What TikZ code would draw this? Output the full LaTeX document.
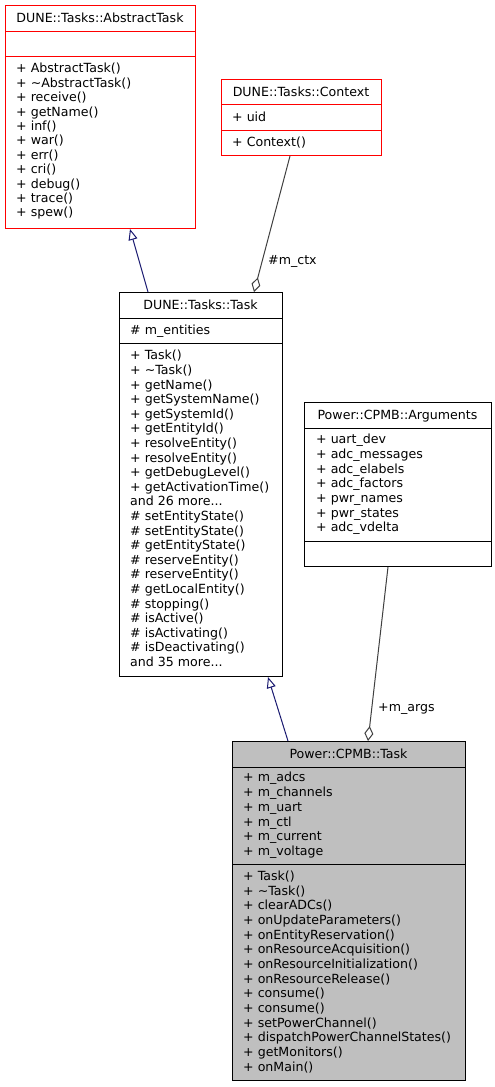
\documentclass[tikz,border=0pt]{standalone}
\usepackage{fontspec}
\setmainfont{DejaVu Sans}
\usetikzlibrary{arrows.meta,calc}
\definecolor{dxred}{HTML}{FF0000}
\definecolor{dxblue}{HTML}{191970}
\definecolor{dxgray}{HTML}{404040}
\definecolor{dxfill}{HTML}{BFBFBF}
\tikzset{
 classbox/.style={draw, line width=1pt, inner sep=0pt, anchor=north west},
 redbox/.style={classbox, draw=dxred},
 blackbox/.style={classbox, draw=black},
 redsep/.style={draw=dxred, line width=1pt},
 blacksep/.style={draw=black, line width=1pt},
 txt/.style={inner sep=0pt, anchor=base west, font=\fontsize{12.6}{14}\selectfont},
 ttl/.style={inner sep=0pt, anchor=base, font=\fontsize{12.6}{14}\selectfont},
 inherit/.style={draw=dxblue, line width=1pt, -{Triangle[open, length=11pt, width=9pt]}},
 aggr/.style={draw=dxgray, line width=1pt, -{Diamond[open, length=15pt, width=9pt]}},
}
\newcommand\mydots{...}
\newcommand\myclassbox[6]{\node[#2, minimum width={(#5)-(#3)}, minimum height={(#6)-(#4)}] (#1) at (#3,#4) {};}
\newcommand\mylines[5]{\foreach \t [count=\i from 0] in {#5} {\node[txt] (#1-\i) at (#2, {#3+\i*#4}) {\t};}}
\begin{document}
\begin{tikzpicture}[x=1pt,y=-1pt]
\fill[white] (0,0) rectangle (495,1087);
% AbstractTask
\myclassbox{abs}{redbox}{5}{5}{195}{228}
\draw[redsep] (5,31) -- (195,31);
\draw[redsep] (5,56.5) -- (195,56.5);
\node[ttl] (abs-t) at (100,22.5) {DUNE::Tasks::AbstractTask};
\mylines{absm}{16}{72.8}{14.4}{+ AbstractTask(), + \textasciitilde AbstractTask(), + receive(), + getName(), + inf(), + war(), + err(), + cri(), + debug(), + trace(), + spew()}
% Context
\myclassbox{ctx}{redbox}{221}{79}{381}{155}
\draw[redsep] (221,104) -- (381,104);
\draw[redsep] (221,130) -- (381,130);
\node[ttl] (ctx-t) at (301,96) {DUNE::Tasks::Context};
\node[txt] (ctx-a) at (232,121) {+ uid};
\node[txt] (ctx-m) at (232,146.5) {+ Context()};
% DUNE Task
\myclassbox{dtask}{blackbox}{119}{292}{282}{676}
\draw[blacksep] (119,318) -- (282,318);
\draw[blacksep] (119,343) -- (282,343);
\node[ttl] (dtask-t) at (200.5,309) {DUNE::Tasks::Task};
\node[txt] (dtask-a) at (130,334.5) {\# m\_entities};
\mylines{dtaskm}{130}{359.8}{14.6}{+ Task(), + \textasciitilde Task(), + getName(), + getSystemName(), + getSystemId(), + getEntityId(), + resolveEntity(), + resolveEntity(), + getDebugLevel(), + getActivationTime(), and 26 more\mydots, \# setEntityState(), \# setEntityState(), \# getEntityState(), \# reserveEntity(), \# reserveEntity(), \# getLocalEntity(), \# stopping(), \# isActive(), \# isActivating(), \# isDeactivating(), and 35 more\mydots}
% Arguments
\myclassbox{args}{blackbox}{304}{402}{491}{566}
\draw[blacksep] (304,428) -- (491,428);
\draw[blacksep] (304,541) -- (491,541);
\node[ttl] (args-t) at (397.5,419) {Power::CPMB::Arguments};
\mylines{argsa}{316}{443.8}{14.67}{+ uart\_dev, + adc\_messages, + adc\_elabels, + adc\_factors, + pwr\_names, + pwr\_states, + adc\_vdelta}
% CPMB Task
\myclassbox{cpmb}{blackbox, fill=dxfill}{232}{741}{465}{1080}
\draw[blacksep] (232,767) -- (465,767);
\draw[blacksep] (232,864) -- (465,864);
\node[ttl] (cpmb-t) at (348.5,758) {Power::CPMB::Task};
\mylines{cpmba}{243}{781.9}{14.75}{+ m\_adcs, + m\_channels, + m\_uart, + m\_ctl, + m\_current, + m\_voltage}
\mylines{cpmbm}{243}{880.6}{14.67}{+ Task(), + \textasciitilde Task(), + clearADCs(), + onUpdateParameters(), + onEntityReservation(), + onResourceAcquisition(), + onResourceInitialization(), + onResourceRelease(), + consume(), + consume(), + setPowerChannel(), + dispatchPowerChannelStates(), + getMonitors(), + onMain()}
% connectors
\draw[inherit] ([xshift=29pt]dtask.north west) -- ([xshift=125pt]abs.south west);
\draw[aggr] ([xshift=69pt]ctx.south west) -- ([xshift=135pt]dtask.north west);
\draw[inherit] ([xshift=56pt]cpmb.north west) -- ([xshift=149pt]dtask.south west);
\draw[aggr] ([xshift=84pt]args.south west) -- ([xshift=136pt]cpmb.north west);
\node[txt] (lbl-ctx) at (268,264.5) {\#m\_ctx};
\node[txt] (lbl-args) at (378,711.5) {+m\_args};
\end{tikzpicture}
\end{document}
